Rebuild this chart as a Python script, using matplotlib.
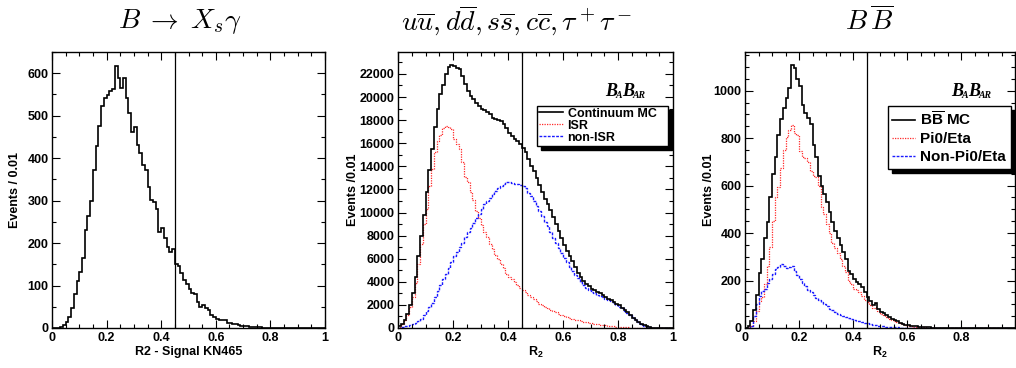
import numpy as np
import matplotlib
matplotlib.use("Agg")
import matplotlib.pyplot as plt
from matplotlib.ticker import MultipleLocator, FuncFormatter
from matplotlib.lines import Line2D

plt.rcParams['font.family'] = ['Liberation Sans', 'DejaVu Sans']
plt.rcParams['font.weight'] = 'bold'
plt.rcParams['mathtext.fontset'] = 'custom'
plt.rcParams['mathtext.rm'] = 'Liberation Sans:bold'
plt.rcParams['mathtext.bf'] = 'Liberation Sans:bold'
plt.rcParams['mathtext.it'] = 'Liberation Sans:italic'

# ---------------- data ----------------
bin_edges = np.linspace(0.0, 1.0, 101)
cut_value = 0.45

signal_counts = [
    0, 0, 1, 3, 7, 15, 27, 46, 81, 111,
    132, 164, 230, 263, 298, 373, 428, 475, 522, 542,
    548, 557, 563, 618, 588, 566, 589, 542, 507, 461,
    473, 432, 411, 384, 373, 332, 301, 297, 280, 227,
    236, 212, 191, 180, 185, 150, 146, 130, 112, 104,
    92, 82, 80, 62, 50, 55, 47, 42, 30, 26,
    22, 19, 19, 18, 12, 12, 10, 9, 8, 5,
    5, 4, 3, 3, 2, 2, 2, 1, 1, 1,
    0, 1, 0, 0, 0, 0, 0, 0, 0, 0,
    0, 0, 0, 0, 0, 0, 0, 0, 0, 0,
]

cont_total = [
    150, 350, 700, 1200, 2000, 3000, 4400, 6200, 8000, 9800,
    11800, 13700, 15500, 17400, 19000, 20300, 21000, 22000, 22600, 22800,
    22700, 22500, 22400, 21800, 21100, 20500, 20100, 19800, 19500, 19200,
    19000, 18900, 18700, 18500, 18200, 18100, 18000, 17900, 17700, 17300,
    16900, 16600, 16400, 16200, 15900, 15600, 15200, 14600, 14000, 13600,
    13000, 12400, 11800, 11200, 10700, 10200, 9600, 9000, 8400, 7800,
    7200, 6700, 6200, 5800, 5300, 4800, 4400, 4100, 3800, 3600,
    3400, 3300, 3150, 3000, 2850, 2700, 2550, 2400, 2250, 2100,
    1950, 1750, 1550, 1350, 1150, 900, 700, 500, 350, 230,
    130, 70, 30, 15, 5, 0, 0, 0, 0, 0,
]

cont_isr = [
    120, 330, 650, 1100, 1800, 2700, 3900, 5500, 7300, 9000,
    10300, 12300, 13800, 15200, 16200, 16700, 17300, 17500, 17400, 17200,
    16400, 15900, 15500, 14400, 13100, 12600, 11800, 11100, 10100, 9500,
    8900, 8300, 7900, 7300, 6800, 6300, 6000, 5500, 5200, 4700,
    4400, 4200, 4000, 3700, 3450, 3300, 3100, 2900, 2700, 2550,
    2300, 2100, 1950, 1800, 1700, 1550, 1450, 1350, 1250, 1150,
    1050, 950, 880, 800, 730, 670, 600, 540, 490, 440,
    400, 360, 320, 280, 250, 220, 190, 160, 140, 120,
    100, 80, 60, 50, 40, 30, 20, 15, 10, 5,
    5, 0, 0, 0, 0, 0, 0, 0, 0, 0,
]

cont_nonisr = [
    0, 100, 150, 200, 260, 350, 450, 600, 800, 1100,
    1500, 1800, 2200, 2700, 3200, 3700, 4200, 4700, 5200, 5700,
    6200, 6600, 7000, 7400, 7900, 8300, 8700, 9100, 9500, 9900,
    10300, 10700, 11000, 11300, 11600, 11850, 12100, 12300, 12500, 12600,
    12600, 12550, 12500, 12450, 12400, 12300, 12100, 11700, 11400, 11000,
    10600, 10100, 9700, 9200, 8800, 8300, 7800, 7400, 6900, 6500,
    6100, 5700, 5300, 4900, 4600, 4300, 4000, 3700, 3450, 3300,
    3150, 3000, 2900, 2750, 2650, 2550, 2400, 2300, 2150, 2000,
    1850, 1700, 1500, 1300, 1100, 880, 680, 480, 330, 200,
    110, 60, 25, 10, 5, 0, 0, 0, 0, 0,
]

bb_total = [
    0, 10, 30, 75, 140, 230, 290, 380, 445, 550,
    650, 720, 815, 880, 925, 970, 1010, 1108, 1095, 1050,
    1020, 940, 905, 885, 860, 770, 720, 640, 600, 565,
    530, 490, 445, 410, 380, 350, 320, 290, 240, 228,
    205, 195, 185, 172, 150, 132, 112, 98, 104, 80,
    68, 62, 55, 46, 40, 34, 28, 22, 18, 14,
    12, 10, 8, 7, 6, 5, 4, 3, 3, 2,
    2, 1, 1, 1, 0, 0, 1, 0, 0, 0,
    0, 0, 0, 0, 0, 0, 0, 0, 0, 0,
    0, 0, 0, 0, 0, 0, 0, 0, 0, 0,
]

bb_pi0eta = [
    0, 5, 10, 30, 70, 115, 130, 185, 260, 340,
    450, 550, 595, 675, 750, 805, 835, 855, 820, 815,
    745, 720, 715, 700, 660, 640, 638, 600, 510, 480,
    440, 400, 360, 335, 315, 290, 262, 235, 198, 185,
    165, 160, 150, 135, 118, 110, 95, 85, 88, 70,
    60, 55, 48, 40, 35, 30, 25, 20, 15, 12,
    10, 8, 6, 5, 4, 3, 3, 2, 2, 1,
    1, 1, 0, 0, 0, 0, 0, 0, 0, 0,
    0, 0, 0, 0, 0, 0, 0, 0, 0, 0,
    0, 0, 0, 0, 0, 0, 0, 0, 0, 0,
]

bb_nonpi0eta = [
    0, 2, 10, 50, 100, 135, 155, 165, 190, 205,
    228, 248, 255, 270, 262, 252, 258, 262, 240, 222,
    205, 190, 175, 160, 150, 138, 128, 118, 108, 100,
    92, 82, 74, 66, 60, 55, 50, 46, 42, 38,
    35, 31, 28, 25, 22, 20, 17, 14, 12, 10,
    8, 7, 6, 5, 4, 3, 3, 2, 2, 1,
    1, 1, 0, 0, 0, 0, 0, 0, 0, 0,
    0, 0, 0, 0, 0, 0, 0, 0, 0, 0,
    0, 0, 0, 0, 0, 0, 0, 0, 0, 0,
    0, 0, 0, 0, 0, 0, 0, 0, 0, 0,
]

titles = [r"$B\;\rightarrow\; X_s\gamma$",
          r"$u\overline{u}, d\overline{d}, s\overline{s}, c\overline{c}, \tau^+\tau^-$",
          r"$B\,\overline{B}$"]
cont_labels = ["Continuum MC", "ISR", "non-ISR"]
bb_labels = [r"B$\overline{\mathbf{B}}$ MC", "Pi0/Eta", "Non-Pi0/Eta"]

# ---------------- figure ----------------
W, H = 1016, 368
fig = plt.figure(figsize=(W / 100, H / 100), dpi=100)


def rect(l, r, t, b):
    return [l / W, 1 - b / H, (r - l) / W, (b - t) / H]


ax1 = fig.add_axes(rect(52, 325, 52, 328))
ax2 = fig.add_axes(rect(398, 673, 52, 328))
ax3 = fig.add_axes(rect(745, 1015, 52, 328))

fmt = FuncFormatter(lambda v, p: f"{v:g}")
fmt3 = FuncFormatter(lambda v, p: "" if v > 0.95 else f"{v:g}")

LS = 9


def style(ax, ymax, ymaj, ymin, xfmt=fmt):
    ax.set_xlim(0, 1)
    ax.set_ylim(0, ymax)
    ax.xaxis.set_major_locator(MultipleLocator(0.2))
    ax.xaxis.set_minor_locator(MultipleLocator(0.05))
    ax.yaxis.set_major_locator(MultipleLocator(ymaj))
    ax.yaxis.set_minor_locator(MultipleLocator(ymin))
    ax.xaxis.set_major_formatter(xfmt)
    ax.tick_params(which='both', direction='in', top=True, right=True,
                   width=0.8, labelsize=LS)
    ax.tick_params(which='major', length=5.5)
    ax.tick_params(which='minor', length=3)
    ax.tick_params(axis='x', pad=3)
    ax.tick_params(axis='y', pad=2.5)
    for lab in ax.get_xticklabels() + ax.get_yticklabels():
        lab.set_fontweight('bold')
    for s in ax.spines.values():
        s.set_linewidth(1.0)
    ax.axvline(cut_value, color='black', lw=0.9, zorder=5)


black_kw = dict(color='black', lw=1.2)
red_kw = dict(color='#ff2a2a', lw=0.9, linestyle=(0, (1, 1)))
blue_kw = dict(color='#1a1aff', lw=1.0, linestyle=(0, (2, 1)))

# Panel 1
ax1.stairs(signal_counts, bin_edges, **black_kw)
style(ax1, 650, 100, 50)
ax1.set_ylabel("Events / 0.01", fontsize=LS, fontweight='bold')
ax1.yaxis.set_label_coords(-0.115, 0.5)
ax1.set_xlabel("R2 - Signal KN465", fontsize=LS, fontweight='bold')
ax1.xaxis.set_label_coords(0.5, -0.064)

# Panel 2
ax2.stairs(cont_isr, bin_edges, **red_kw)
ax2.stairs(cont_nonisr, bin_edges, **blue_kw)
ax2.stairs(cont_total, bin_edges, **black_kw)
style(ax2, 23900, 2000, 1000)
ax2.set_ylabel("Events /0.01", fontsize=LS, fontweight='bold')
ax2.yaxis.set_label_coords(-0.142, 0.5)
ax2.set_xlabel(r"R$_{\mathbf{2}}$", fontsize=LS, fontweight='bold')
ax2.xaxis.set_label_coords(0.5, -0.062)

# Panel 3
ax3.stairs(bb_pi0eta, bin_edges, **red_kw)
ax3.stairs(bb_nonpi0eta, bin_edges, **blue_kw)
ax3.stairs(bb_total, bin_edges, **black_kw)
style(ax3, 1163, 200, 50, xfmt=fmt3)
ax3.set_ylabel("Events /0.01", fontsize=LS, fontweight='bold')
ax3.yaxis.set_label_coords(-0.110, 0.5)
ax3.set_xlabel(r"R$_{\mathbf{2}}$", fontsize=LS, fontweight='bold')
ax3.xaxis.set_label_coords(0.5, -0.062)


def handles():
    return [Line2D([], [], **black_kw), Line2D([], [], **red_kw),
            Line2D([], [], **blue_kw)]


shadow = {'ox': 3, 'oy': -3, 'shade': 1.0, 'alpha': 1.0}
leg2 = ax2.legend(handles(), cont_labels, loc='upper left',
                  bbox_to_anchor=(0.505, 0.60, 0.476, 0.205), mode='expand',
                  borderaxespad=0,
                  prop={'size': 9, 'weight': 'bold'}, frameon=True,
                  fancybox=False, shadow=shadow,
                  edgecolor='black', framealpha=1, borderpad=0.15,
                  labelspacing=0.0, handlelength=1.9, handletextpad=0.4)
leg2.get_frame().set_linewidth(1.0)
leg2.set_zorder(10)

leg3 = ax3.legend(handles(), bb_labels, loc='upper left',
                  bbox_to_anchor=(0.528, 0.805), borderaxespad=0,
                  prop={'size': 11, 'weight': 'bold'}, frameon=True,
                  fancybox=False, shadow=shadow,
                  edgecolor='black', framealpha=1, borderpad=0.3,
                  labelspacing=0.25, handlelength=1.5, handletextpad=0.35)
leg3.get_frame().set_linewidth(1.0)
leg3.set_zorder(10)


def babar(ax, x, y):
    kw_big = dict(fontsize=13, family='Liberation Serif', weight='bold',
                  style='italic')
    kw_small = dict(fontsize=7, family='Liberation Serif', weight='bold',
                    style='italic')
    t1 = ax.text(x, y, "B", transform=ax.transAxes, va='baseline', ha='left',
                 **kw_big)
    t2 = ax.annotate("A", xy=(0.85, 0), xycoords=t1, va='bottom', ha='left',
                     **kw_small)
    t3 = ax.annotate("B", xy=(0.95, 0), xycoords=t2, va='bottom', ha='left',
                     **kw_big)
    ax.annotate("AR", xy=(0.85, 0), xycoords=t3, va='bottom', ha='left',
                **kw_small)


babar(ax2, 0.755, 0.842)
babar(ax3, 0.765, 0.842)

# Titles
for xc, t in zip([180, 517, 869], titles):
    fig.text(xc / W, 1 - 21 / H, t, fontsize=20, ha='center',
             va='center', math_fontfamily='cm')

fig.savefig("out.png", dpi=100)
